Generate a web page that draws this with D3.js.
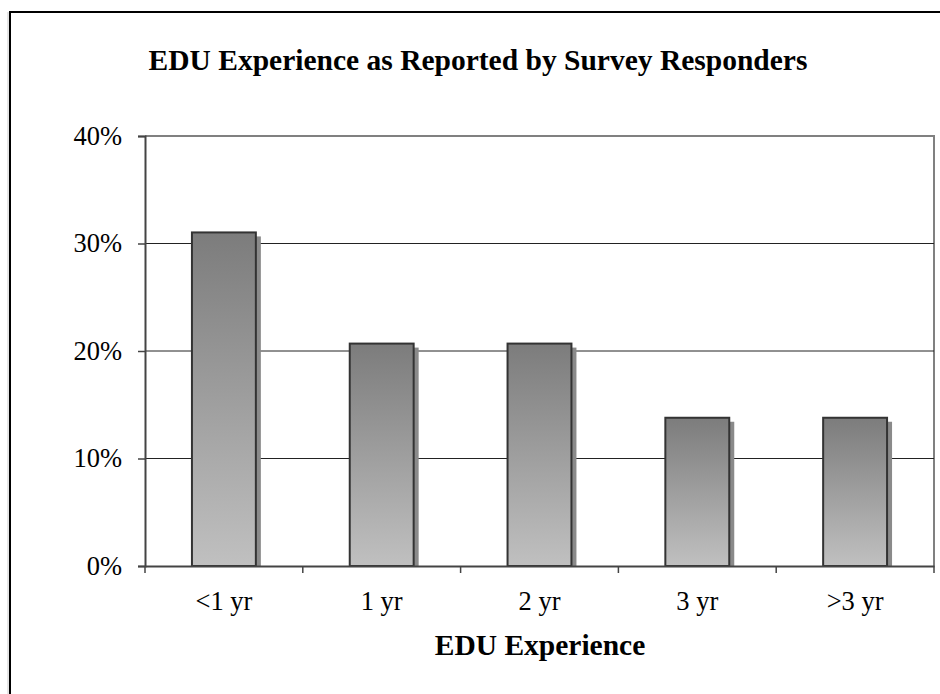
<!DOCTYPE html>
<html>
<head>
<meta charset="utf-8">
<script src="https://cdn.jsdelivr.net/npm/d3@7"></script>
<style>
body { margin: 0; background: #fff; }
text { font-family: "Liberation Serif", "Times New Roman", serif; fill: #000; }
</style>
</head>
<body>
<script>
var width = 940,
    height = 694;

var categories = ["<1 yr", "1 yr", "2 yr", "3 yr", ">3 yr"];
var values = [0.3103, 0.2069, 0.2069, 0.1379, 0.1379];
var yTicks = [0, 0.1, 0.2, 0.3, 0.4];

var margin = { left: 145, right: 6, top: 136, bottom: 128 };

var svg = d3.select("body").append("svg")
    .attr("width", width)
    .attr("height", height);

var defs = svg.append("defs");
var grad = defs.append("linearGradient")
    .attr("id", "barGrad")
    .attr("x1", 0).attr("y1", 0).attr("x2", 0).attr("y2", 1);
grad.append("stop").attr("offset", "0%").attr("stop-color", "#7c7c7c");
grad.append("stop").attr("offset", "100%").attr("stop-color", "#c0c0c0");

// outer chart frame (runs off right and bottom edge)
svg.append("line")
    .attr("x1", 8).attr("y1", 12).attr("x2", 8).attr("y2", height)
    .attr("stroke", "#ccc").attr("stroke-width", 1);
svg.append("path")
    .attr("d", "M10," + height + "V12H" + width)
    .attr("fill", "none")
    .attr("stroke", "#000")
    .attr("stroke-width", 2);

var x = d3.scaleBand()
    .domain(categories)
    .range([margin.left, width - margin.right])
    .paddingInner(0.595)
    .paddingOuter(0.2975);

var y = d3.scaleLinear()
    .domain([0, 0.4])
    .range([height - margin.bottom, margin.top]);

// plot area frame (top, right)
svg.append("path")
    .attr("d", "M" + margin.left + "," + y(0.4) + "H" + (width - margin.right) + "V" + y(0))
    .attr("fill", "none")
    .attr("stroke", "#808080")
    .attr("stroke-width", 2);

// gridlines
svg.selectAll(".grid")
    .data(yTicks.filter(function (d) { return d > 0 && d < 0.4; }))
    .enter().append("line")
    .attr("class", "grid")
    .attr("x1", margin.left).attr("x2", width - margin.right)
    .attr("y1", function (d) { return y(d); })
    .attr("y2", function (d) { return y(d); })
    .attr("stroke", "#222")
    .attr("stroke-width", 1);

// bar shadows
svg.selectAll(".shadow")
    .data(values)
    .enter().append("rect")
    .attr("class", "shadow")
    .attr("x", function (d, i) { return x(categories[i]) + 5; })
    .attr("y", function (d) { return y(d) + 4; })
    .attr("width", x.bandwidth())
    .attr("height", function (d) { return y(0) - y(d) - 4; })
    .attr("fill", "#8a8a8a");

// bars
svg.selectAll(".bar")
    .data(values)
    .enter().append("rect")
    .attr("class", "bar")
    .attr("x", function (d, i) { return x(categories[i]); })
    .attr("y", function (d) { return y(d); })
    .attr("width", x.bandwidth())
    .attr("height", function (d) { return y(0) - y(d); })
    .attr("fill", "url(#barGrad)")
    .attr("stroke", "#333")
    .attr("stroke-width", 2);

// y axis
var yAxis = svg.append("g")
    .attr("transform", "translate(" + margin.left + ",0)")
    .call(d3.axisLeft(y).tickValues(yTicks).tickFormat(d3.format(".0%")).tickSize(7).tickPadding(16));
yAxis.select(".domain").attr("stroke", "#444").attr("stroke-width", 2);
yAxis.selectAll(".tick line").attr("stroke", "#444").attr("stroke-width", 1.5);
yAxis.selectAll("text")
    .style("font-family", "'Liberation Serif', 'Times New Roman', serif")
    .style("font-size", "26.5px");

// x axis
var xAxis = svg.append("g")
    .attr("transform", "translate(0," + y(0) + ")")
    .call(d3.axisBottom(x).tickSize(0).tickPadding(25));
xAxis.select(".domain").attr("stroke", "#444").attr("stroke-width", 2);
xAxis.selectAll("text")
    .style("font-family", "'Liberation Serif', 'Times New Roman', serif")
    .style("font-size", "26.5px");

// x tick marks between categories
var bounds = d3.range(categories.length + 1).map(function (i) { return margin.left + i * (width - margin.left - margin.right) / categories.length; });
svg.selectAll(".xtick")
    .data(bounds)
    .enter().append("line")
    .attr("class", "xtick")
    .attr("x1", function (d) { return d; }).attr("x2", function (d) { return d; })
    .attr("y1", y(0)).attr("y2", y(0) + 7)
    .attr("stroke", "#444").attr("stroke-width", 1.5);

// title
svg.append("text")
    .attr("x", 478).attr("y", 70)
    .attr("text-anchor", "middle")
    .style("font-size", "29.5px")
    .style("font-weight", "bold")
    .text("EDU Experience as Reported by Survey Responders");

// axis title
svg.append("text")
    .attr("x", 540).attr("y", 655)
    .attr("text-anchor", "middle")
    .style("font-size", "29.5px")
    .style("font-weight", "bold")
    .text("EDU Experience");
</script>
</body>
</html>
